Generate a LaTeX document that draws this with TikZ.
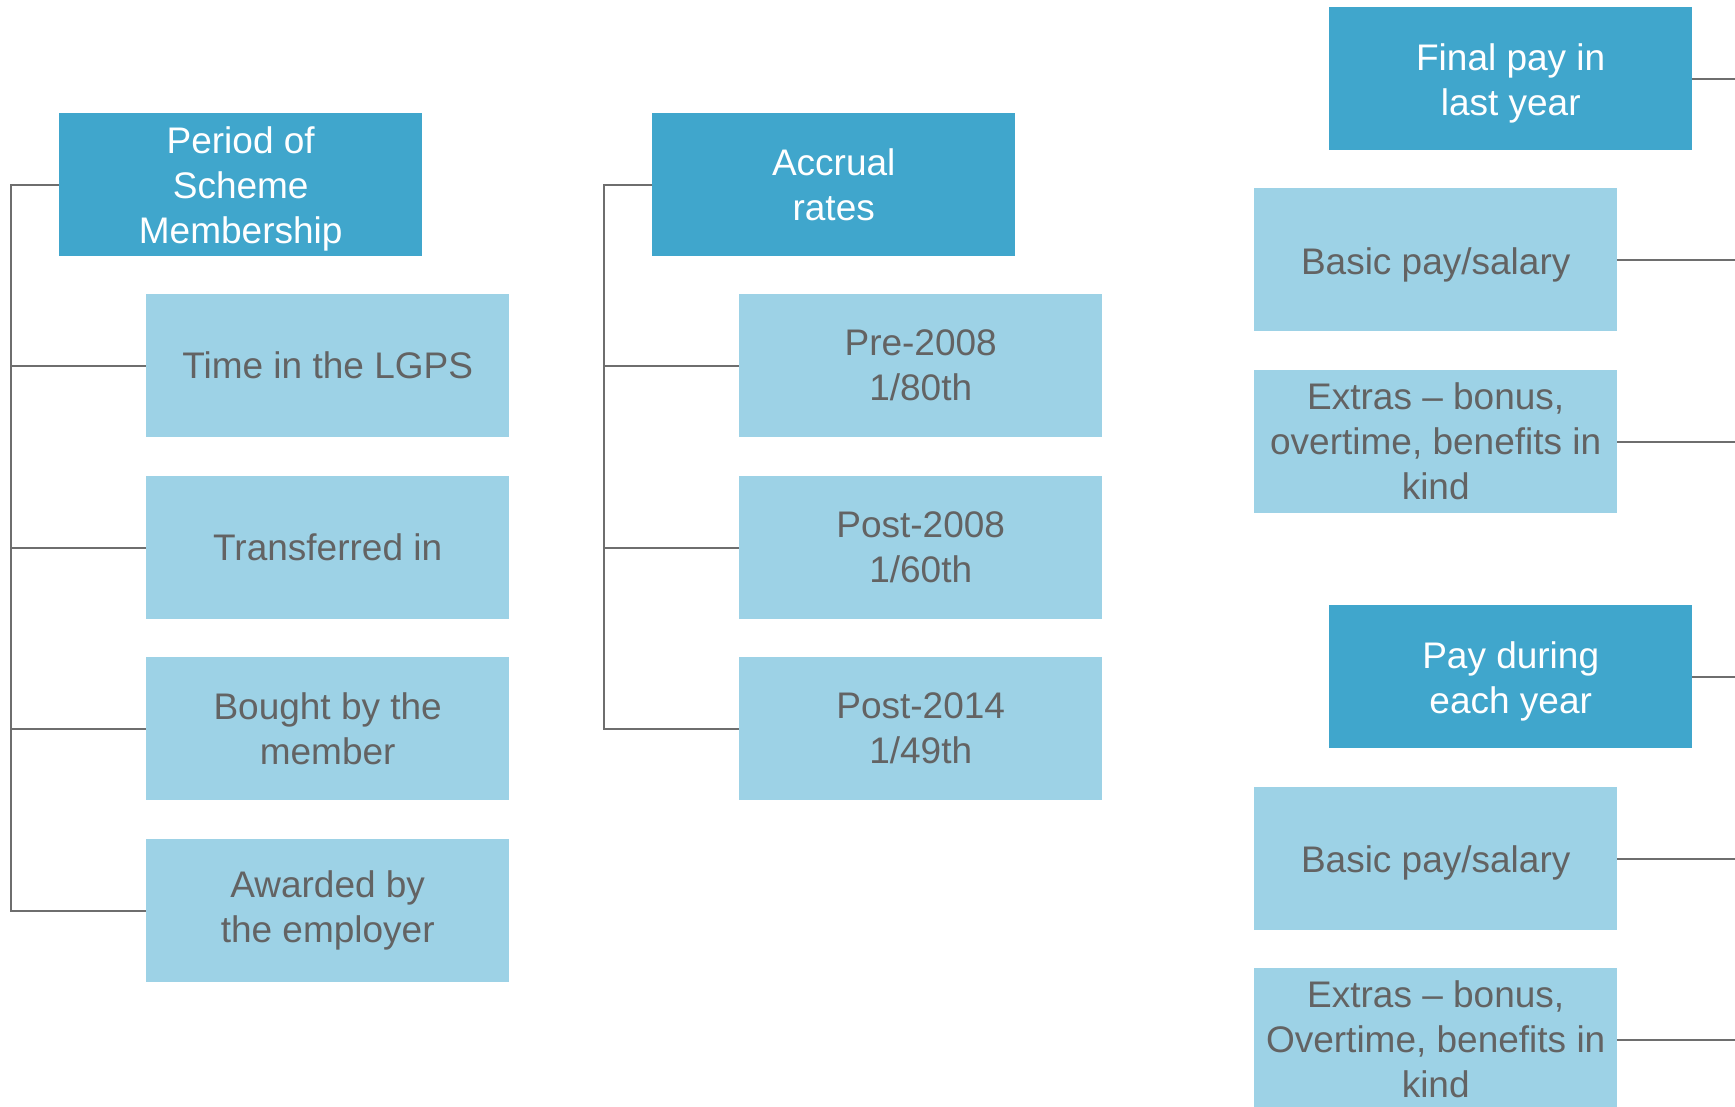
\documentclass[tikz,border=0pt]{standalone}
\usepackage{fontspec}
\setmainfont{Liberation Sans}
\definecolor{darkbox}{HTML}{40A6CC}
\definecolor{lightbox}{HTML}{9DD2E6}
\definecolor{txtgray}{HTML}{636363}
\definecolor{wiregray}{HTML}{6E6E6E}
\newcommand{\lowerby}[1]{\rule{0pt}{#1}}
\begin{document}
\begin{tikzpicture}[x=1pt,y=-1pt,
  hdr/.style={rectangle, fill=darkbox, text=white, minimum width=363pt, minimum height=143pt,
    inner sep=0pt, align=center, font=\fontsize{37}{45}\selectfont, anchor=north west},
  sub/.style={hdr, fill=lightbox, text=txtgray},
  wire/.style={draw=wiregray, line width=2pt}]
\useasboundingbox (0,0) rectangle (1735,1106);
\clip (0,0) rectangle (1735,1106);
\fill[white] (0,0) rectangle (1735,1106);

% left column
\node[hdr] (period) at (59,113) {\lowerby{35pt}Period of\\Scheme\\Membership};
\node[sub] (time) at (146,294) {Time in the LGPS};
\node[sub] (transf) at (146,476) {Transferred in};
\node[sub] (bought) at (146,657) {Bought by the\\member};
\node[sub] (awarded) at (146,839) {Awarded by\\the employer};

% middle column
\node[hdr] (accrual) at (652,113) {Accrual\\rates};
\node[sub] (pre) at (739,294) {Pre-2008\\1/80th};
\node[sub] (post8) at (739,476) {Post-2008\\1/60th};
\node[sub] (post14) at (739,657) {Post-2014\\1/49th};

% right column
\node[hdr] (final) at (1329,7) {\lowerby{36pt}Final pay in\\last year};
\node[sub] (basic1) at (1254,188) {\lowerby{37pt}Basic pay/salary};
\node[sub] (extras1) at (1254,370) {Extras – bonus,\\overtime, benefits in\\kind};
\node[hdr] (pay) at (1329,605) {\lowerby{36pt}Pay during\\each year};
\node[sub] (basic2) at (1254,787) {\lowerby{36pt}Basic pay/salary};
\node[sub] (extras2) at (1254,968) {Extras – bonus,\\Overtime, benefits in\\kind};

% connectors
\coordinate (lt) at (11,0);
\coordinate (mt) at (604,0);
\coordinate (re) at (1735,0);
\draw[wire] (period.west) -- (period.west -| lt) |- (awarded.west);
\foreach \n in {time,transf,bought} \draw[wire] (\n.west -| lt) -- (\n.west);
\draw[wire] (accrual.west) -- (accrual.west -| mt) |- (post14.west);
\foreach \n in {pre,post8} \draw[wire] (\n.west -| mt) -- (\n.west);
\foreach \n in {final,basic1,extras1,pay,basic2,extras2} \draw[wire] (\n.east) -- (\n.east -| re);
\end{tikzpicture}
\end{document}
